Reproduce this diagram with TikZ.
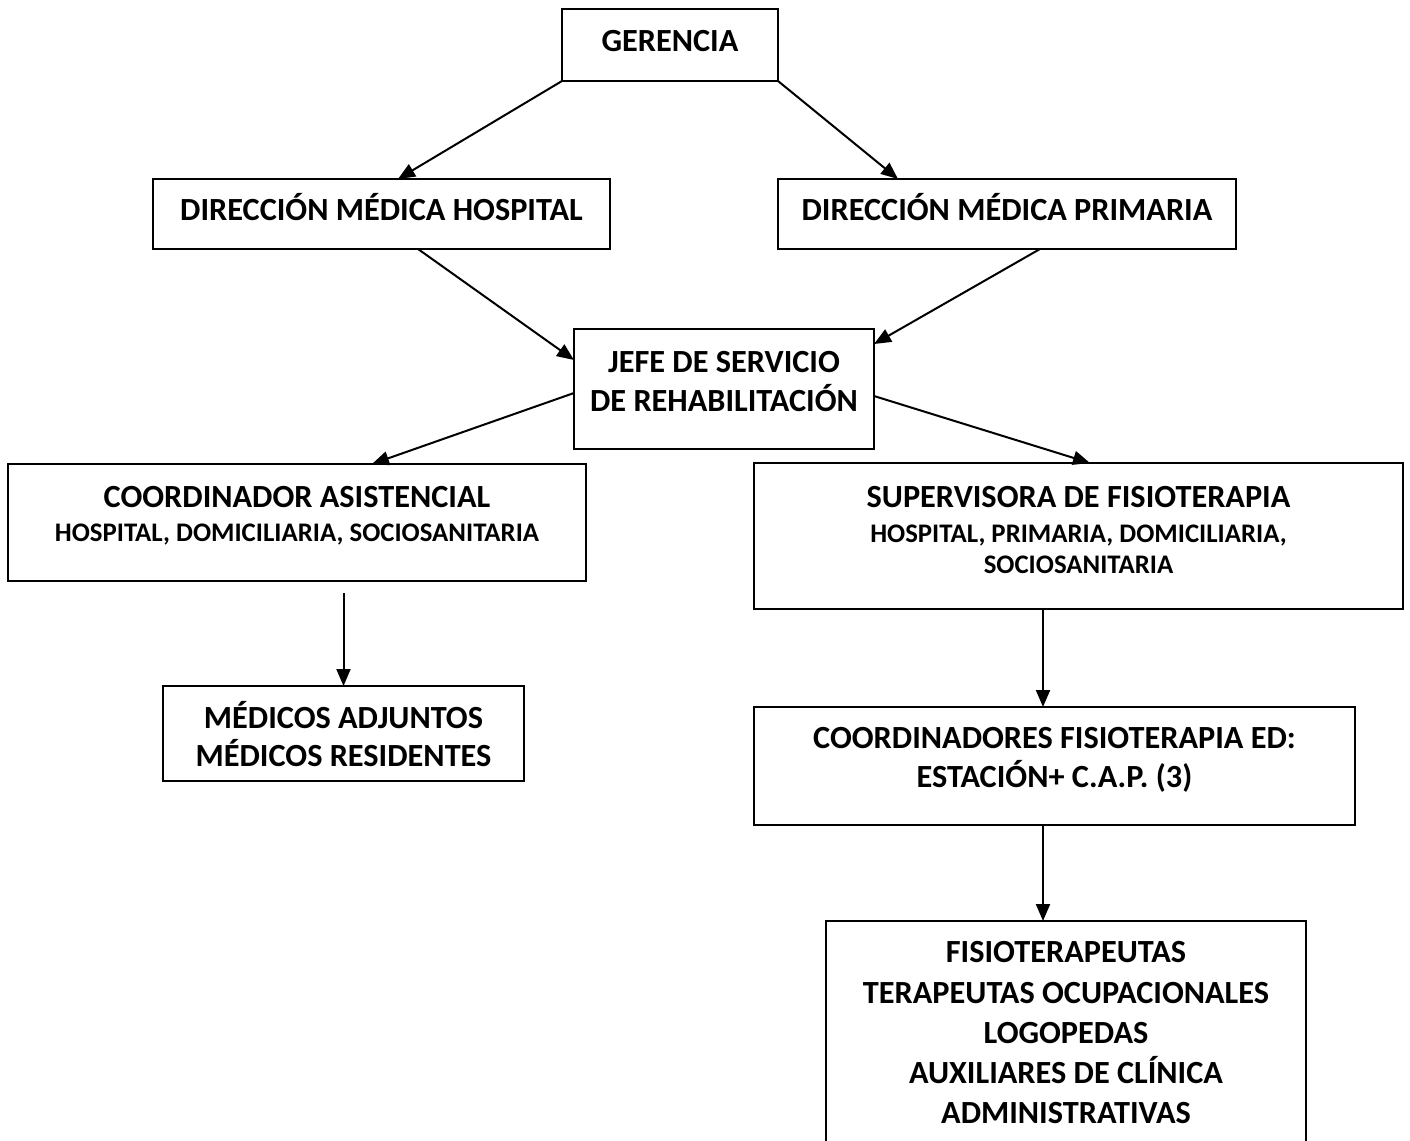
\documentclass[tikz,border=0pt]{standalone}
\usepackage{fontspec}
\setmainfont{Carlito}
\usetikzlibrary{arrows.meta,calc}
\begin{document}
\begin{tikzpicture}[x=1pt,y=-1pt,
  box/.style={draw=black,line width=2pt,rectangle,inner sep=0pt,outer sep=0pt},
  big/.style={font=\fontsize{32.3}{38}\selectfont\bfseries,anchor=base,inner sep=0pt},
  small/.style={font=\fontsize{26.8}{30}\selectfont\bfseries,anchor=base,inner sep=0pt},
  conn/.style={line width=2pt,-{Triangle[length=17pt,width=14pt]}}]
\useasboundingbox (0,0) rectangle (1410,1140);
\clip (0,0) rectangle (1410,1140);
% boxes
\node[box,minimum width=216pt,minimum height=72pt] (ger) at (670,45) {};
\node[box,minimum width=457pt,minimum height=70pt] (dmh) at (381.5,214) {};
\node[box,minimum width=458pt,minimum height=70pt] (dmp) at (1007,214) {};
\node[box,minimum width=300pt,minimum height=120pt] (jefe) at (724,389) {};
\node[box,minimum width=578pt,minimum height=117pt] (coord) at (297,522.5) {};
\node[box,minimum width=649pt,minimum height=146pt] (sup) at (1078.5,536) {};
\node[box,minimum width=361pt,minimum height=95pt] (med) at (343.5,733.5) {};
\node[box,minimum width=601pt,minimum height=118pt] (cdn) at (1054.5,766) {};
\node[box,minimum width=480pt,minimum height=260pt] (fis) at (1066,1051) {};
% texts
\node[big] (t1) at (670,52) {GERENCIA};
\node[big] (t2) at (381.5,220) {DIRECCIÓN MÉDICA HOSPITAL};
\node[big] (t3) at (1007,220) {DIRECCIÓN MÉDICA PRIMARIA};
\node[big] (t4) at (724,372) {JEFE DE SERVICIO};
\node[big] (t5) at (724,411) {DE REHABILITACIÓN};
\node[big] (t6) at (297,507) {COORDINADOR ASISTENCIAL};
\node[small] (t7) at (297,541) {HOSPITAL, DOMICILIARIA, SOCIOSANITARIA};
\node[big] (t8) at (1078.5,507) {SUPERVISORA DE FISIOTERAPIA};
\node[small] (t9) at (1078.5,542) {HOSPITAL, PRIMARIA, DOMICILIARIA,};
\node[small] (t10) at (1078.5,573) {SOCIOSANITARIA};
\node[big] (t11) at (343.5,728) {MÉDICOS ADJUNTOS};
\node[big] (t12) at (343.5,766) {MÉDICOS RESIDENTES};
\node[big] (t13) at (1054.5,748) {COORDINADORES FISIOTERAPIA ED:};
\node[big] (t14) at (1054.5,787) {ESTACIÓN+ C.A.P. (3)};
\node[big] (t15) at (1066,962) {FISIOTERAPEUTAS};
\node[big] (t16) at (1066,1003) {TERAPEUTAS OCUPACIONALES};
\node[big] (t17) at (1066,1043) {LOGOPEDAS};
\node[big] (t18) at (1066,1083) {AUXILIARES DE CLÍNICA};
\node[big] (t19) at (1066,1123) {ADMINISTRATIVAS};
% connectors
\draw[conn] (ger.south west) -- ([xshift=245pt]dmh.north west);
\draw[conn] (ger.south east) -- ([xshift=120pt]dmp.north west);
\draw[conn] ([xshift=265pt]dmh.south west) -- ([yshift=-31pt]jefe.north west);
\draw[conn] ([xshift=262pt]dmp.south west) -- ([yshift=-15pt]jefe.north east);
\draw[conn] ([yshift=-64pt]jefe.north west) -- ([xshift=364pt]coord.north west);
\draw[conn] ([yshift=-67pt]jefe.north east) -- ([xshift=336pt]sup.north west);
\draw[conn] ([yshift=-12pt]med.north |- coord.south) -- (med.north);
\draw[conn] ([xshift=289pt]sup.south west) -- ([xshift=289pt]cdn.north west);
\draw[conn] ([xshift=289pt]cdn.south west) -- ([xshift=217pt]fis.north west);
\end{tikzpicture}
\end{document}
